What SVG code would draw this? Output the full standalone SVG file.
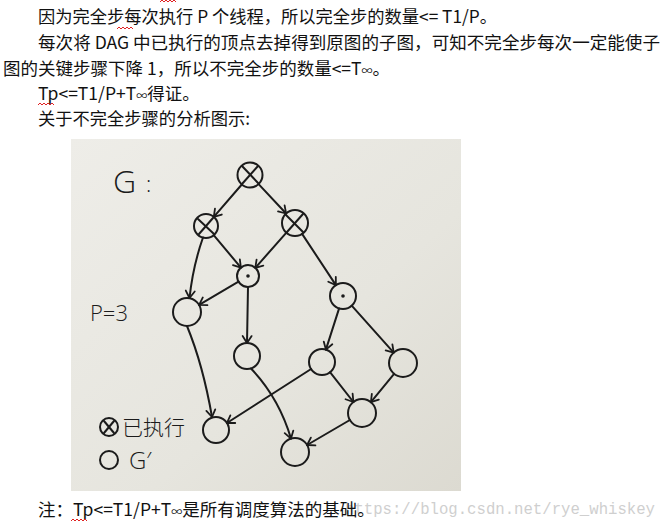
<svg xmlns="http://www.w3.org/2000/svg" width="664" height="524" viewBox="0 0 664 524">
<defs>
<linearGradient id="paper" x1="0" y1="0" x2="1" y2="1">
<stop offset="0" stop-color="#eeede8"/>
<stop offset="0.6" stop-color="#e6e5de"/>
<stop offset="1" stop-color="#dcdad1"/>
</linearGradient>
<marker id="arr" markerUnits="userSpaceOnUse" markerWidth="14" markerHeight="14" viewBox="-10 -7 14 14" refX="0" refY="0" orient="auto">
<path d="M-7,-4.5 L0,0 L-7,4.5" fill="none" stroke="#1b1b1b" stroke-width="1.8" stroke-linecap="round" stroke-linejoin="round"/>
</marker>
<style>
.doc{font-family:"Noto Sans CJK SC","Noto Sans",sans-serif;font-size:17.5px;fill:#111;}
.inf{font-size:11px;}
.hand{font-family:"Open Sans","Lato","DejaVu Sans",sans-serif;font-weight:300;fill:#1b1b1b;}
.handcjk{font-family:"Noto Sans CJK SC",sans-serif;fill:#1b1b1b;font-weight:300;}
.node{fill:none;stroke:#1b1b1b;stroke-width:2;}
.x{stroke:#1b1b1b;stroke-width:2;stroke-linecap:round;}
.dot{fill:#1b1b1b;}
.edge{fill:none;stroke:#1b1b1b;stroke-width:2;stroke-linecap:round;marker-end:url(#arr);}
.squig{fill:none;stroke:#e02020;stroke-width:1;}
.wm{font-family:"Liberation Mono","DejaVu Sans Mono",monospace;font-size:16px;fill:#cfcfcf;}
</style>
</defs>
<rect width="664" height="524" fill="#ffffff"/>

<g id="text-body">
<path class="squig" d="M160,2 l2,-2 l2,2 l2,-2 l2,2 l2,-2 l2,2 l2,-2 l2,2"/>
<text class="doc" x="38" y="23" textLength="459" lengthAdjust="spacingAndGlyphs">因为完全步每次执行 P 个线程，所以完全步的数量&lt;= T1/P。</text>
<path class="squig" d="M117,29 l2,-2 l2,2 l2,-2 l2,2 l2,-2 l2,2 l2,-2 l2,2"/>
<text class="doc" x="38" y="49" textLength="622" lengthAdjust="spacingAndGlyphs">每次将 DAG 中已执行的顶点去掉得到原图的子图，可知不完全步每次一定能使子</text>
<text class="doc" x="3" y="75">图的关键步骤下降 1，所以不完全步的数量&lt;=T<tspan class="inf">∞</tspan>。</text>
<text class="doc" x="38" y="100">Tp&lt;=T1/P+T<tspan class="inf">∞</tspan>得证。</text>
<path class="squig" d="M38,105 l2,-2 l2,2 l2,-2 l2,2 l2,-2 l2,2 l2,-2 l2,2"/>
<text class="doc" x="38" y="125" textLength="212" lengthAdjust="spacingAndGlyphs">关于不完全步骤的分析图示:</text>
</g>

<rect id="photo" x="71" y="139" width="390" height="352" fill="url(#paper)"/>

<g id="labels">
<text class="hand" x="113" y="193" font-size="32">G</text>
<text class="hand" x="146" y="192" font-size="22">:</text>
<text class="hand" x="90" y="321" font-size="22">P=3</text>
</g>

<g id="connectors">
<path class="edge" d="M241.8,184.5 L213.8,216.9"/>
<path class="edge" d="M258.6,184.1 L286.1,213.5"/>
<path class="edge" d="M213.7,235.2 L240.9,267.6"/>
<path class="edge" d="M286.4,232.7 L255.3,267.8"/>
<path class="edge" d="M302.1,233.9 L335.9,285.1"/>
<path class="edge" d="M203,237.5 Q193,266 189.5,298"/>
<path class="edge" d="M238.5,281.6 L199.1,304.9"/>
<path class="edge" d="M248,287 L247,343"/>
<path class="edge" d="M339.1,308.4 L325.9,349.6"/>
<path class="edge" d="M351.7,305.7 L393.7,352.6"/>
<path class="edge" d="M187,326 Q203,365 212,417"/>
<path class="edge" d="M251,368.5 Q279,398 291,438.6"/>
<path class="edge" d="M311.1,369 L226.9,423"/>
<path class="edge" d="M330,372.2 L353.4,402"/>
<path class="edge" d="M394.1,373.8 L370.9,402.2"/>
<path class="edge" d="M349.9,420 L307.1,445"/>
</g>

<g id="nA"><circle class="node" cx="250" cy="175" r="12.5"/><line class="x" x1="242" y1="166" x2="259" y2="184"/><line class="x" x2="242" y2="184" x1="258" y1="166"/></g>
<g id="nB"><circle class="node" cx="206" cy="226" r="12"/><line class="x" x1="198" y1="219" x2="214" y2="234"/><line class="x" x1="213" y1="218" x2="199" y2="234"/></g>
<g id="nC"><circle class="node" cx="295" cy="223" r="13"/><line class="x" x1="286" y1="215" x2="303" y2="232"/><line class="x" x1="303" y1="214" x2="287" y2="232"/></g>
<g id="nD"><circle class="node" cx="248" cy="276" r="11"/><circle class="dot" cx="248" cy="276" r="1.8"/></g>
<g id="nE"><circle class="node" cx="343" cy="296" r="13"/><circle class="dot" cx="343" cy="296" r="1.8"/></g>
<g id="nF"><circle class="node" cx="187" cy="312" r="14"/></g>
<g id="nG"><circle class="node" cx="247" cy="356" r="13"/></g>
<g id="nH"><circle class="node" cx="322" cy="362" r="13"/></g>
<g id="nI"><circle class="node" cx="403" cy="363" r="14"/></g>
<g id="nJ"><circle class="node" cx="362" cy="413" r="14"/></g>
<g id="nK"><circle class="node" cx="216" cy="430" r="13"/></g>
<g id="nL"><circle class="node" cx="295" cy="452" r="14"/></g>

<g id="legend">
<circle class="node" cx="109" cy="427" r="9"/><line class="x" x1="104" y1="421" x2="114" y2="433"/><line class="x" x1="114" y1="421" x2="104" y2="433"/>
<text class="handcjk" x="122" y="435" font-size="21">已执行</text>
<circle class="node" cx="109" cy="460" r="9"/>
<text class="hand" x="129" y="469" font-size="24">G′</text>
</g>

<g id="note">
<text class="wm" x="345" y="514" textLength="310" lengthAdjust="spacingAndGlyphs">https://blog.csdn.net/rye_whiskey</text>
<text class="doc" x="38" y="516">注：Tp&lt;=T1/P+T<tspan class="inf">∞</tspan>是所有调度算法的基础。</text>
<path class="squig" d="M71,521 l2,-2 l2,2 l2,-2 l2,2 l2,-2 l2,2 l2,-2 l2,2"/>
</g>
</svg>
